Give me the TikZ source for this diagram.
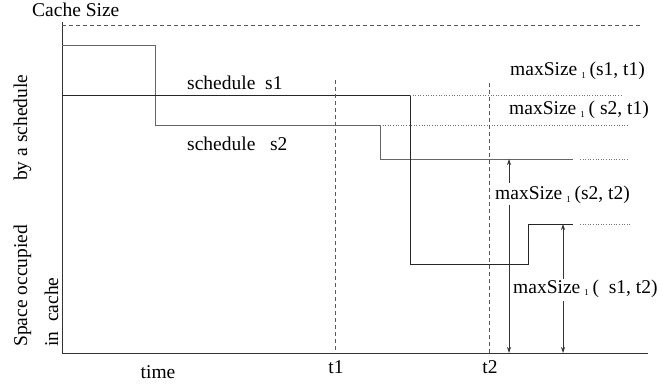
\documentclass[tikz,border=0pt]{standalone}
\usepackage{fontspec}
\setmainfont{Liberation Serif}
\usetikzlibrary{arrows.meta}
% small lowered index after "maxSize"
\newcommand\idxone{\hspace{0.2em}\raisebox{-2.5pt}{\fontsize{9}{9}\selectfont 1}\hspace{0.2em}}
\tikzset{
  lbl/.style={inner sep=0pt, anchor=base west, font=\fontsize{19.5}{23}\selectfont},
  axisline/.style={draw=black!80, line width=0.9pt},
  sched/.style={draw=black!85, line width=0.9pt},
  schedgray/.style={draw=black!60, line width=0.9pt},
  guide/.style={draw=black!65, line width=0.8pt, dash pattern=on 4pt off 3pt},
  trail/.style={draw=black!55, line width=0.6pt, dash pattern=on 1pt off 1.6pt},
  measure/.style={draw=black!80, line width=0.8pt, -{Stealth[length=6pt,width=4pt,inset=2pt]}}
}
\begin{document}
\begin{tikzpicture}[x=1pt,y=-1pt]
  \useasboundingbox (0,0) rectangle (668,387);

  % axes
  \coordinate (ytop) at (62,22);
  \coordinate (origin) at (62,353);
  \coordinate (xend) at (648,353);
  \draw[axisline] (ytop) -- (origin) -- (xend);

  % cache size limit
  \coordinate (capL) at (62,25);
  \coordinate (capR) at (640,25);
  \draw[guide] (capL) -- (capR);

  % schedule s2
  \coordinate (b0) at (62,45);
  \coordinate (b1) at (155,125);
  \coordinate (b2) at (380,159);
  \coordinate (b3) at (573,159);
  \draw[schedgray] (b0) -| (b1) -| (b2) -- (b3);

  % schedule s1
  \coordinate (a0) at (62,95);
  \coordinate (a1) at (410,264);
  \coordinate (a2) at (528,224);
  \coordinate (a3) at (573,224);
  \draw[sched] (a0) -| (a1) -| (a2) -- (a3);

  % level extensions
  \coordinate (e1a) at (410,95);  \coordinate (e1b) at (623,95);
  \coordinate (e2a) at (380,125); \coordinate (e2b) at (628,125);
  \coordinate (e3a) at (580,159); \coordinate (e3b) at (628,159);
  \coordinate (e4a) at (580,224); \coordinate (e4b) at (632,224);
  \draw[trail] (e1a) -- (e1b);
  \draw[trail] (e2a) -- (e2b);
  \draw[trail] (e3a) -- (e3b);
  \draw[trail] (e4a) -- (e4b);

  % time instants
  \coordinate (t1top) at (335,80);  \coordinate (t1bot) at (335,353);
  \coordinate (t2top) at (489,83);  \coordinate (t2bot) at (489,353);
  \draw[guide] (t1top) -- (t1bot);
  \draw[guide] (t2top) -- (t2bot);

  % texts
  \node[lbl] (cachesize) at (32,17) {Cache Size};
  \node[lbl] (s1lbl) at (187,90) {schedule\ \ s1};
  \node[lbl] (s2lbl) at (187,151) {schedule\ \ \ s2};
  \node[lbl, anchor=base] (timelbl) at (158,378) {time};
  \node[lbl, anchor=base] (t1lbl) at (336,373) {t1};
  \node[lbl, anchor=base] (t2lbl) at (490,373) {t2};
  \node[lbl, rotate=90] (ylbl1) at (27,347) {Space occupied};
  \node[lbl, rotate=90] (ylbl2) at (27,181) {by a schedule};
  \node[lbl, rotate=90] (ylbl3) at (58,347) {in\ \ cache};

  \node[lbl] (m11) at (510,76) {maxSize\idxone(s1, t1)};
  \node[lbl] (m21) at (509,115) {maxSize\idxone( s2, t1)};
  \node[lbl] (m22) at (495,200) {maxSize\idxone(s2, t2)};
  \node[lbl] (m12) at (513,293) {maxSize\idxone(\ \ s1, t2)};

  % measurements at t2
  \coordinate (p1) at (509,183);
  \coordinate (p2) at (509,205);
  \coordinate (p1end) at (509,159);
  \coordinate (p2end) at (509,353);
  \draw[measure] (p1) -- (p1end);
  \draw[measure] (p2) -- (p2end);

  \coordinate (q1) at (563,279);
  \coordinate (q2) at (563,301);
  \coordinate (q1end) at (563,224);
  \coordinate (q2end) at (563,353);
  \draw[measure] (q1) -- (q1end);
  \draw[measure] (q2) -- (q2end);
\end{tikzpicture}
\end{document}
